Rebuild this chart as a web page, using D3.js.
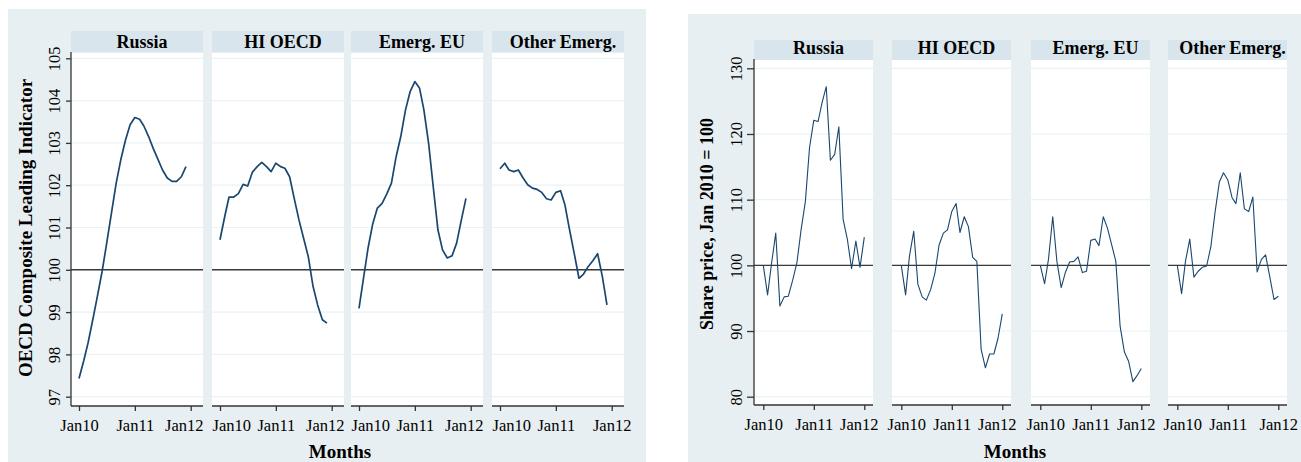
<!DOCTYPE html>
<meta charset="utf-8">
<style>
body { margin: 0; background: #fff; }
text { font-family: "Liberation Serif", "DejaVu Serif", serif; fill: #000; }
.line { fill: none; stroke: #1a476f; stroke-linejoin: round; }
.grid { stroke: #eaf2f3; stroke-width: 1.2; }
.ref { stroke: #3a3a3a; }
.axis line, .axisline { stroke: #333; stroke-width: 1.3; }
.axis path { display: none; }
.axis text { font-size: 16.5px; }
</style>
<body>
<script src="https://cdn.jsdelivr.net/npm/d3@7"></script>
<script>

// region names (facet headers)
var regions = ["Russia", "HI OECD", "Emerg. EU", "Other Emerg."];

// months: CLI runs Jan10-Dec11, share prices Jan10-Jan12
var cliMonths = d3.timeMonth.range(new Date(2010, 0, 1), new Date(2012, 0, 1));
var shareMonths = d3.timeMonth.range(new Date(2010, 0, 1), new Date(2012, 1, 1));
var xTicks = [new Date(2010, 0, 1), new Date(2011, 0, 1), new Date(2012, 0, 1)];

// OECD composite leading indicator
var cliRussia = [97.43, 97.85, 98.27, 98.82, 99.37, 99.96, 100.63, 101.34, 102.05, 102.6, 103.07, 103.43,
                 103.6, 103.56, 103.4, 103.15, 102.87, 102.61, 102.36, 102.17, 102.09, 102.09, 102.2, 102.44];
var cliHiOecd = [100.71, 101.26, 101.72, 101.72, 101.8, 102.02, 101.98, 102.31, 102.44, 102.54, 102.44, 102.32,
                 102.52, 102.44, 102.4, 102.2, 101.69, 101.18, 100.75, 100.31, 99.61, 99.17, 98.82, 98.74];
var cliEmergEu = [99.09, 99.84, 100.51, 101.09, 101.46, 101.57, 101.79, 102.05, 102.68, 103.15, 103.78, 104.21,
                  104.45, 104.29, 103.78, 102.99, 101.97, 100.94, 100.47, 100.28, 100.33, 100.63, 101.18, 101.69];
var cliOtherEmerg = [102.39, 102.52, 102.36, 102.32, 102.36, 102.17, 102.01, 101.93, 101.9, 101.83, 101.68, 101.65,
                     101.83, 101.87, 101.54, 100.94, 100.39, 99.8, 99.9, 100.08, 100.22, 100.38, 99.84, 99.17];

// share prices, Jan 2010 = 100
var shareRussia = [100, 95.5, 100.2, 104.9, 93.8, 95.2, 95.3, 97.7, 100.4, 105.4, 109.7, 117.9,
                   122.1, 121.9, 124.7, 127.2, 116, 116.9, 121.1, 107, 103.9, 99.5, 103.7, 99.7, 104.3];
var shareHiOecd = [100, 95.5, 101.4, 105.2, 97.1, 95.2, 94.7, 96.3, 98.8, 103.1, 104.9, 105.4,
                   108.2, 109.4, 105, 107.4, 105.9, 101.2, 100.6, 87.2, 84.4, 86.5, 86.5, 88.9, 92.6];
var shareEmergEu = [100, 97.2, 100.9, 107.4, 100.6, 96.6, 98.9, 100.5, 100.6, 101.3, 98.9, 99.1,
                    103.8, 104, 103, 107.4, 105.7, 103.1, 100.6, 90.7, 86.8, 85.4, 82.3, 83.2, 84.3];
var shareOtherEmerg = [100, 95.7, 100.6, 104, 98.2, 99.1, 99.7, 99.9, 102.9, 108.1, 112.7, 114.1,
                       113, 110.3, 109.4, 114.1, 108.6, 108.2, 110.4, 99, 100.9, 101.6, 98.2, 94.8, 95.3];

var cliTicks = [97, 98, 99, 100, 101, 102, 103, 104, 105];
var shareTicks = [80, 90, 100, 110, 120, 130];

var svg = d3.select("body").append("svg")
    .attr("width", 1301)
    .attr("height", 462);

function drawChart(c) {
    var g = svg.append("g");

    // grey graph region
    g.append("rect")
        .attr("x", c.bgX).attr("y", c.bgY)
        .attr("width", c.bgW).attr("height", c.bgH)
        .attr("fill", "#e8eff2");

    var y = d3.scaleLinear().domain(c.yDomain).range(c.yRange);
    var n = c.series.length;

    c.series.forEach(function(values, i) {
        var left = c.lefts[i];
        var right = left + c.panelW;
        var x = d3.scaleTime().domain([xTicks[0], xTicks[2]])
            .range([left + c.xOff[0], left + c.xOff[1]]);

        // header strip
        g.append("rect")
            .attr("x", left).attr("y", c.headY)
            .attr("width", c.panelW).attr("height", c.headH)
            .attr("fill", "#d9e5ec");
        var t = g.append("text")
            .attr("y", c.headBase)
            .attr("text-anchor", "middle")
            .style("font-size", "18px")
            .style("font-weight", "bold")
            .text(regions[i]);
        var tw = t.node().getComputedTextLength();
        var cx = left + c.panelW / 2 + 5;
        if (cx + tw / 2 > right) cx = right - tw / 2;
        t.attr("x", cx);

        // plot region
        g.append("rect")
            .attr("x", left).attr("y", c.top)
            .attr("width", c.panelW).attr("height", c.bottom - c.top)
            .attr("fill", "#fff");

        // gridlines
        g.selectAll(null)
            .data(c.yTicks)
            .enter().append("line")
            .attr("class", "grid")
            .attr("x1", left).attr("x2", right)
            .attr("y1", function(d) { return y(d); })
            .attr("y2", function(d) { return y(d); });

        // reference line at 100
        g.append("line")
            .attr("class", "ref")
            .attr("stroke-width", c.refW)
            .attr("x1", left).attr("x2", right)
            .attr("y1", y(100)).attr("y2", y(100));

        // the series
        var valueline = d3.line()
            .x(function(d, j) { return x(c.months[j]); })
            .y(function(d) { return y(d); });
        g.append("path")
            .datum(values)
            .attr("class", "line")
            .attr("stroke-width", c.lineW)
            .attr("d", valueline);

        // x axis
        var xa = g.append("g")
            .attr("class", "axis")
            .attr("transform", "translate(0," + c.bottom + ")")
            .call(d3.axisBottom(x).tickValues(xTicks)
                .tickSize(5).tickPadding(8.5)
                .tickFormat(d3.timeFormat("%b%y")));
        // keep inner labels inside their panel, like stata does
        xa.selectAll(".tick text").each(function(d) {
            var w = this.getComputedTextLength();
            var px = x(d), shift = 0;
            if (i > 0 && px - w / 2 < left - c.slack) shift = left - c.slack - (px - w / 2);
            if (i < n - 1 && px + w / 2 > right + c.slack) shift = right + c.slack - (px + w / 2);
            d3.select(this).attr("dx", shift);
        });
        g.append("line")
            .attr("class", "axisline")
            .attr("x1", left).attr("x2", right)
            .attr("y1", c.bottom).attr("y2", c.bottom);
    });

    // y axis on the first panel
    var ax = c.lefts[0];
    var ya = g.append("g")
        .attr("class", "axis")
        .attr("transform", "translate(" + ax + ",0)")
        .call(d3.axisLeft(y).tickValues(c.yTicks).tickSize(c.yTickSize));
    ya.selectAll(".tick text")
        .attr("x", null).attr("dy", null)
        .attr("text-anchor", "middle")
        .attr("transform", "translate(" + c.yLabelX + ",0) rotate(-90)");
    g.append("line")
        .attr("class", "axisline")
        .attr("x1", ax).attr("x2", ax)
        .attr("y1", c.top - 1).attr("y2", c.bottom);

    // titles
    g.append("text")
        .attr("transform", "translate(" + c.yTitleX + "," + c.yTitleY + ") rotate(-90)")
        .attr("text-anchor", "middle")
        .style("font-size", c.yTitleSize)
        .style("font-weight", "bold")
        .text(c.yTitle);
    g.append("text")
        .attr("x", c.xTitleX).attr("y", 458)
        .attr("text-anchor", "middle")
        .style("font-size", "19px")
        .style("font-weight", "bold")
        .text("Months");
}

drawChart({
    bgX: 8, bgY: 9, bgW: 638, bgH: 453,
    lefts: [71, 212, 351, 492], panelW: 132,
    headY: 31, headH: 21, headBase: 48,
    top: 53, bottom: 406,
    yDomain: [97, 105], yRange: [396.7, 58.3], yTicks: cliTicks,
    xOff: [8, 119.7], slack: 0,
    months: cliMonths,
    series: [cliRussia, cliHiOecd, cliEmergEu, cliOtherEmerg],
    lineW: 1.7, refW: 1.6, yTickSize: 5, yLabelX: -11,
    yTitle: "OECD Composite Leading Indicator", yTitleX: 31.5, yTitleY: 228, yTitleSize: "19px",
    xTitleX: 340
});

drawChart({
    bgX: 688, bgY: 14, bgW: 613, bgH: 448,
    lefts: [754, 892, 1031, 1168], panelW: 119,
    headY: 40, headH: 20, headBase: 54,
    top: 60, bottom: 405,
    yDomain: [80, 130], yRange: [396.7, 68.3], yTicks: shareTicks,
    xOff: [9.3, 110.3], slack: 5,
    months: shareMonths,
    series: [shareRussia, shareHiOecd, shareEmergEu, shareOtherEmerg],
    lineW: 1.1, refW: 1.3, yTickSize: 7, yLabelX: -12,
    yTitle: "Share price, Jan 2010 = 100", yTitleX: 713, yTitleY: 224, yTitleSize: "18px",
    xTitleX: 1015
});

</script>
</body>
